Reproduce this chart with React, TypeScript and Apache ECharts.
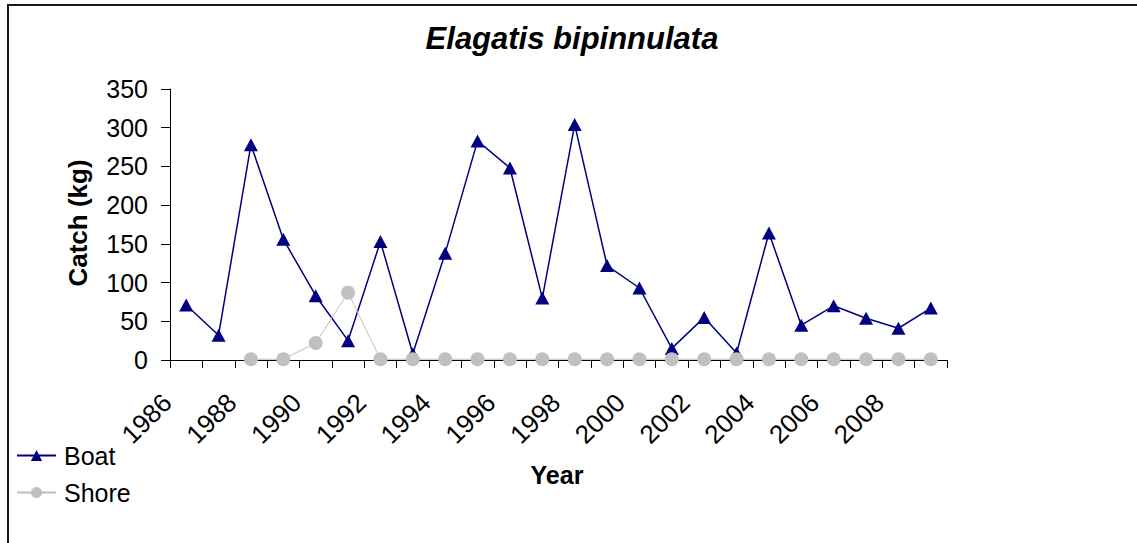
import React, { useEffect, useRef } from "react";
import * as echarts from "echarts";

const years = ["1986","1987","1988","1989","1990","1991","1992","1993","1994","1995","1996","1997","1998","1999","2000","2001","2002","2003","2004","2005","2006","2007","2008","2009"];
const boat = [71, 32, 278, 156, 83, 25, 153, 8, 138, 283, 248, 80, 304, 122, 93, 15, 55, 9, 164, 45, 70, 54, 41, 67];
const shore = [null, null, 1, 1, 22, 87, 1, 1, 1, 1, 1, 1, 1, 1, 1, 1, 1, 1, 1, 1, 1, 1, 1, 1];
const yTicks = { min: 0, max: 350, interval: 50 };
const titleText = "Elagatis bipinnulata";
const yName = "Catch (kg)";
const xName = "Year";

const FONT = "'Liberation Sans', Arial, sans-serif";

export default function App() {
  const ref = useRef<HTMLDivElement>(null);
  useEffect(() => {
    const chart = echarts.init(ref.current!, null, { renderer: "svg" });
    chart.setOption({
      animation: false,
      backgroundColor: "#fff",
      textStyle: { fontFamily: FONT },
      grid: { left: 170, right: 190, top: 89, bottom: 183, containLabel: false },
      legend: {
        orient: "vertical",
        left: 16,
        top: 443,
        padding: 0,
        itemWidth: 39,
        itemHeight: 14,
        itemGap: 12,
        textStyle: { fontSize: 25, color: "#000", fontFamily: FONT, padding: [0, 0, 0, 3], lineHeight: 24 },
        data: ["Boat", "Shore"],
      },
      graphic: [
        {
          type: "rect",
          shape: { x: 8, y: 5, width: 1160, height: 600 },
          style: { fill: "none", stroke: "#1a1a1a", lineWidth: 2 },
          silent: true,
        },
        {
          type: "text",
          x: 572,
          y: 38,
          style: {
            text: titleText,
            font: `italic bold 31px ${FONT}`,
            fill: "#000",
            textAlign: "center",
            textVerticalAlign: "middle",
          },
        },
        {
          type: "text",
          x: 78,
          y: 223,
          rotation: Math.PI / 2,
          style: {
            text: yName,
            font: `bold 26px ${FONT}`,
            fill: "#000",
            textAlign: "center",
            textVerticalAlign: "middle",
          },
        },
        {
          type: "text",
          x: 557,
          y: 475,
          style: {
            text: xName,
            font: `bold 25px ${FONT}`,
            fill: "#000",
            textAlign: "center",
            textVerticalAlign: "middle",
          },
        },
      ],
      xAxis: {
        type: "category",
        data: years,
        boundaryGap: true,
        axisLine: { lineStyle: { color: "#000", width: 1 } },
        axisTick: { show: true, interval: 0, length: 8, lineStyle: { color: "#000" } },
        axisLabel: {
          interval: 1,
          rotate: 45,
          margin: 19,
          fontSize: 26,
          color: "#000",
          fontFamily: FONT,
          padding: [0, 27, 0, 0],
        },
        splitLine: { show: false },
      },
      yAxis: {
        type: "value",
        min: yTicks.min,
        max: yTicks.max,
        interval: yTicks.interval,
        axisLine: { show: true, lineStyle: { color: "#000", width: 1 } },
        axisTick: { show: true, length: 9, lineStyle: { color: "#000" } },
        axisLabel: { margin: 22, fontSize: 25, color: "#000", fontFamily: FONT },
        splitLine: { show: false },
      },
      series: [
        {
          name: "Boat",
          type: "line",
          data: boat,
          symbol: "triangle",
          symbolSize: [14, 13],
          lineStyle: { color: "#000080", width: 1.5 },
          itemStyle: { color: "#000080" },
        },
        {
          name: "Shore",
          type: "line",
          data: shore,
          symbol: "circle",
          symbolSize: 14,
          lineStyle: { color: "#C0C0C0", width: 1 },
          itemStyle: { color: "#C0C0C0" },
        },
      ],
    });
    return () => chart.dispose();
  }, []);
  return (
    <div
      ref={ref}
      style={{ position: "fixed", left: 0, top: 0, width: 1137, height: 543 }}
    />
  );
}
